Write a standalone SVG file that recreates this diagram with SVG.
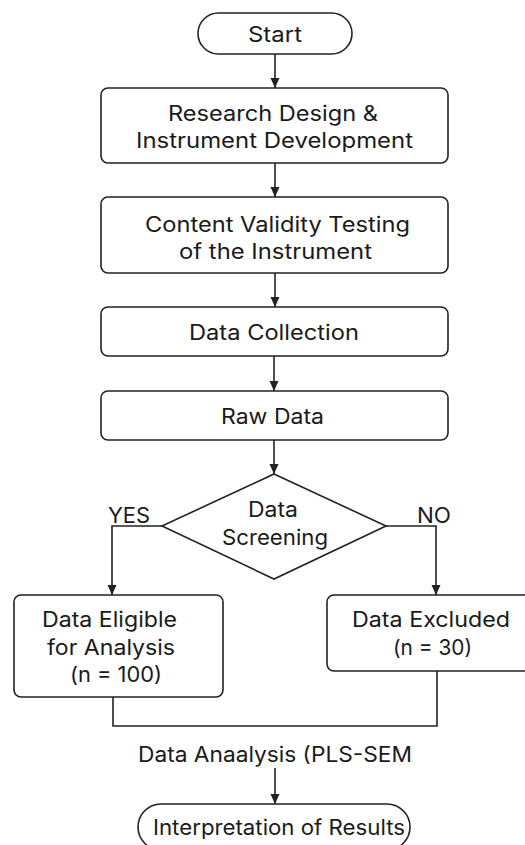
<svg xmlns="http://www.w3.org/2000/svg" width="525" height="845" viewBox="0 0 525 845">
  <style>
    .shape { fill: #ffffff; stroke: #222222; stroke-width: 1.6; }
    .label { font-family: Inter, "Noto Sans", "Liberation Sans", sans-serif; font-size: 21px; fill: #1a1a1a; text-anchor: middle; }
    .wire { fill: none; stroke: #222222; stroke-width: 1.6; }
  </style>
  <defs>
    <marker id="arrow" viewBox="0 0 10 10" refX="10" refY="5" markerWidth="10" markerHeight="10" markerUnits="userSpaceOnUse" orient="auto">
      <path d="M0,0.5 L10,5 L0,9.5 Z" fill="#222222"/>
    </marker>
  </defs>
  <rect width="525" height="845" fill="#ffffff"/>

  <g id="connectors">
    <line class="wire" x1="275" y1="54" x2="275" y2="88" marker-end="url(#arrow)"/>
    <line class="wire" x1="275" y1="163" x2="275" y2="197" marker-end="url(#arrow)"/>
    <line class="wire" x1="275" y1="273" x2="275" y2="307" marker-end="url(#arrow)"/>
    <line class="wire" x1="274" y1="356" x2="274" y2="391" marker-end="url(#arrow)"/>
    <line class="wire" x1="274" y1="440" x2="274" y2="474" marker-end="url(#arrow)"/>
    <polyline class="wire" points="162,526 112,526 112,595" marker-end="url(#arrow)"/>
    <polyline class="wire" points="386,526 436,526 436,595" marker-end="url(#arrow)"/>
    <polyline class="wire" points="113,697 113,726 437,726 437,671"/>
    <line class="wire" x1="275" y1="768" x2="275" y2="804" marker-end="url(#arrow)"/>
    <text class="label" x="129" y="523" textLength="42" lengthAdjust="spacingAndGlyphs">YES</text>
    <text class="label" x="434" y="523" textLength="34" lengthAdjust="spacingAndGlyphs">NO</text>
  </g>

  <g id="start">
    <rect class="shape" x="198" y="13" width="154" height="41" rx="20.5"/>
    <text class="label" x="275" y="42" textLength="54" lengthAdjust="spacingAndGlyphs">Start</text>
  </g>

  <g id="research-design">
    <rect class="shape" x="101" y="88" width="347" height="75" rx="7"/>
    <text class="label" x="273" y="121" textLength="210" lengthAdjust="spacingAndGlyphs">Research Design &amp;</text>
    <text class="label" x="274.5" y="148" textLength="277" lengthAdjust="spacingAndGlyphs">Instrument Development</text>
  </g>

  <g id="content-validity">
    <rect class="shape" x="101" y="197" width="347" height="76" rx="7"/>
    <text class="label" x="277.5" y="232" textLength="265" lengthAdjust="spacingAndGlyphs">Content Validity Testing</text>
    <text class="label" x="275.5" y="259" textLength="193" lengthAdjust="spacingAndGlyphs">of the Instrument</text>
  </g>

  <g id="data-collection">
    <rect class="shape" x="101" y="307" width="347" height="49" rx="7"/>
    <text class="label" x="274" y="340" textLength="170" lengthAdjust="spacingAndGlyphs">Data Collection</text>
  </g>

  <g id="raw-data">
    <rect class="shape" x="101" y="391" width="347" height="49" rx="7"/>
    <text class="label" x="272.5" y="424" textLength="103" lengthAdjust="spacingAndGlyphs">Raw Data</text>
  </g>

  <g id="data-screening">
    <polygon class="shape" points="274,474 386,526 274,579 162,526"/>
    <text class="label" x="273" y="517" textLength="50" lengthAdjust="spacingAndGlyphs">Data</text>
    <text class="label" x="275" y="545" textLength="106" lengthAdjust="spacingAndGlyphs">Screening</text>
  </g>

  <g id="data-eligible">
    <rect class="shape" x="14" y="595" width="209" height="102" rx="7"/>
    <text class="label" x="109.5" y="627" textLength="135" lengthAdjust="spacingAndGlyphs">Data Eligible</text>
    <text class="label" x="111" y="655" textLength="128" lengthAdjust="spacingAndGlyphs">for Analysis</text>
    <text class="label" x="116" y="682" textLength="92" lengthAdjust="spacingAndGlyphs">(n = 100)</text>
  </g>

  <g id="data-excluded">
    <rect class="shape" x="327" y="595" width="210" height="76" rx="7"/>
    <text class="label" x="431" y="627" textLength="158" lengthAdjust="spacingAndGlyphs">Data Excluded</text>
    <text class="label" x="432.5" y="655" textLength="79" lengthAdjust="spacingAndGlyphs">(n = 30)</text>
  </g>

  <g id="data-analysis">
    <text class="label" x="275" y="762" textLength="274" lengthAdjust="spacingAndGlyphs">Data Anaalysis (PLS-SEM</text>
  </g>

  <g id="interpretation">
    <rect class="shape" x="138" y="804" width="272" height="46" rx="23"/>
    <text class="label" x="279" y="835" textLength="252" lengthAdjust="spacingAndGlyphs">Interpretation of Results</text>
  </g>
</svg>
